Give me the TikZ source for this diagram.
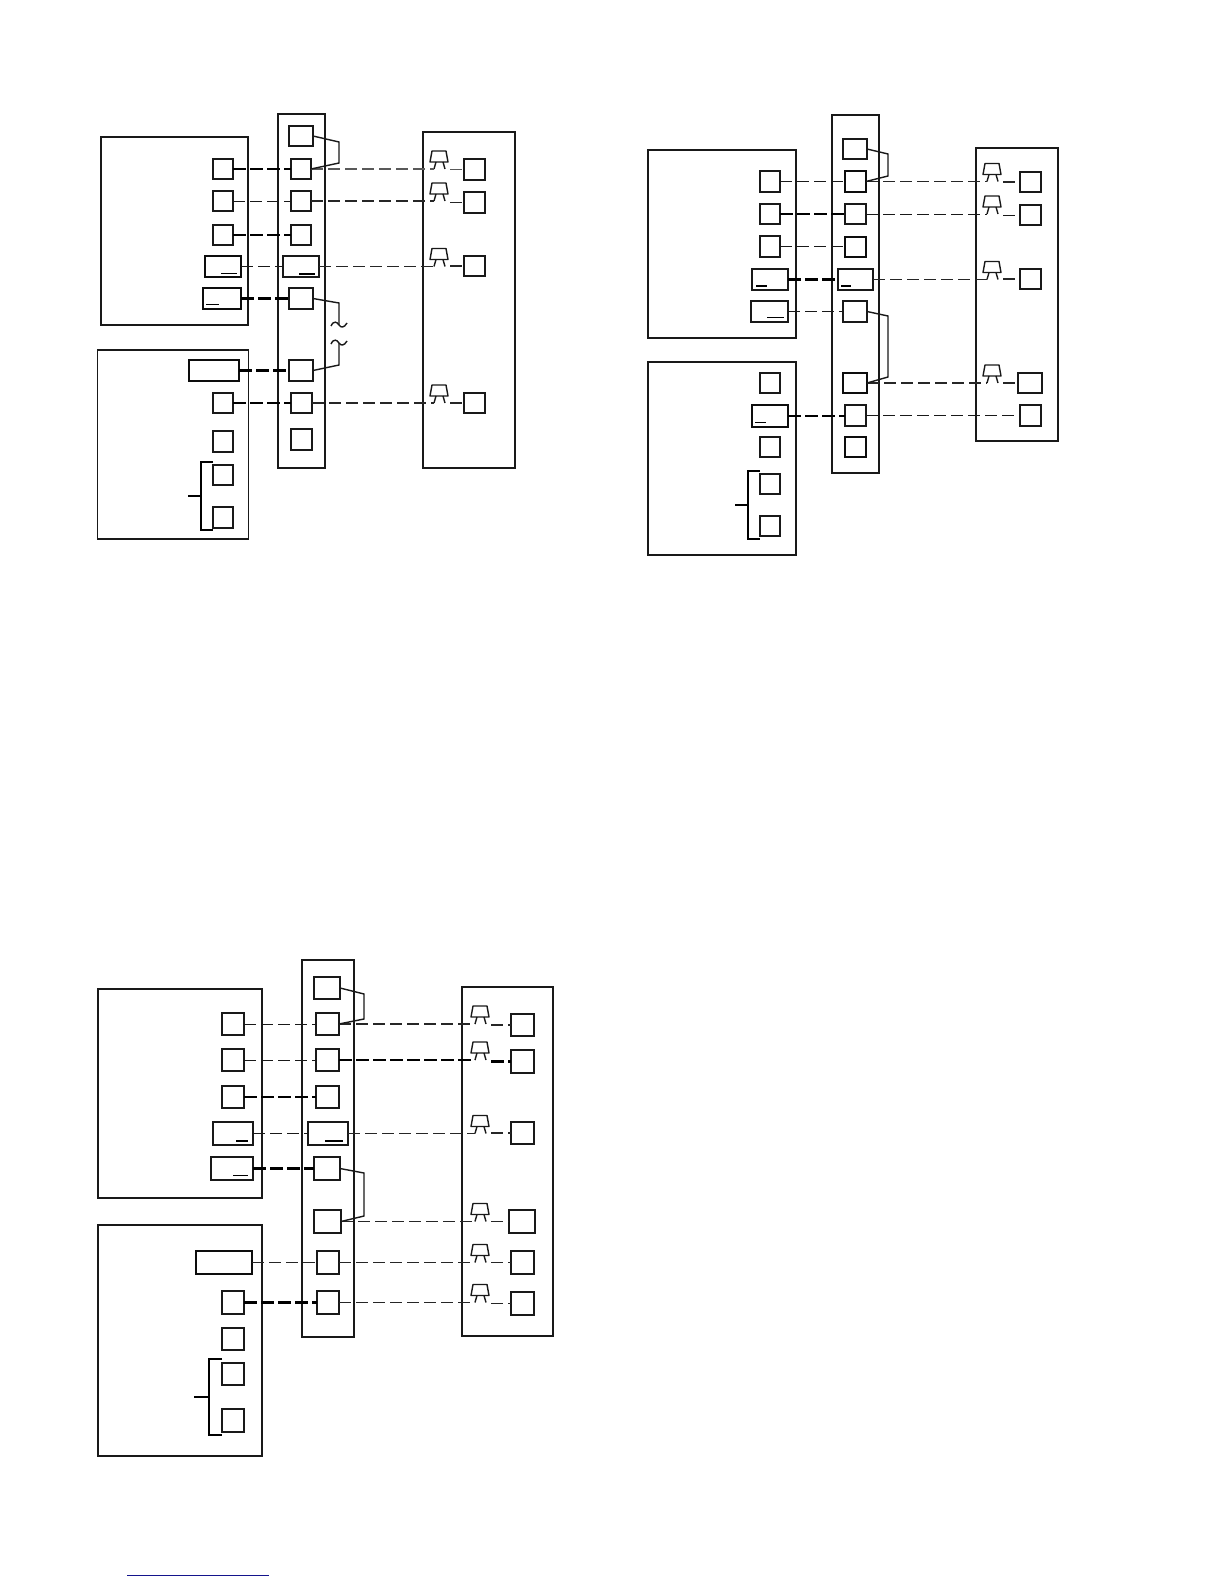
\documentclass[tikz,border=0pt]{standalone}
\definecolor{footerblue}{RGB}{20,20,140}
\tikzset{
  x=1pt,y=-1pt,
  outerbox/.style={draw=black!90,line width=1.3pt},
  framebox/.style={draw=black!90,line width=1.1pt},
  sq/.style={draw=black!90,line width=1.3pt,inner sep=0pt,outer sep=0pt},
  sqb/.style={draw=black!90,line width=1.9pt,inner sep=0pt,outer sep=0pt},
  sqt/.style={draw=black!95,line width=1.05pt,inner sep=0pt,outer sep=0pt},
  wthin/.style={draw=black!90,line width=1pt,dash pattern=on 12pt off 5pt},
  wmed/.style={draw=black!85,line width=1.5pt,dash pattern=on 12pt off 5pt},
  wthick/.style={draw=black,line width=2.1pt,dash pattern=on 13pt off 4pt},
  jumper/.style={draw=black!90,line width=1.4pt},
  lampshape/.style={draw=black!90,line width=1.4pt,line join=round},
  bar/.style={draw=black,line width=1.4pt},
  barthin/.style={draw=black,line width=0.9pt},
  brace/.style={draw=black,line width=1.3pt},
}
\newcommand\bx[6][sq]{\node[#1,minimum width={(#5-#3)*1pt},minimum height={(#6-#4)*1pt}] (#2) at ({(#3+#5)/2},{(#4+#6)/2}) {};}
\newcommand\panelbox[6][outerbox]{\node[#1,inner sep=0pt,outer sep=0pt,minimum width={(#5-#3)*1pt},minimum height={(#6-#4)*1pt}] (#2) at ({(#3+#5)/2},{(#4+#6)/2}) {};}
\newcommand\lamp[3]{%
  \coordinate (#1l) at ({#2-5},#3);
  \coordinate (#1r) at ({#2+11},#3);
  \draw[lampshape] ({#2-7},{#3-18}) -- ({#2+7},{#3-18}) -- ({#2+9},{#3-7}) -- ({#2-9},{#3-7}) -- cycle;
  \draw[lampshape] ({#2-3},{#3-7}) -- ({#2-5},#3);
  \draw[lampshape] ({#2+4},{#3-7}) -- ({#2+6},#3);
}
% straight wire between two nodes, level with the first
\newcommand\wire[3]{\draw[#1] (#2.east) -- (#2.east -| #3.west);}
% wire from a strip terminal through a lamp to a load terminal
\newcommand\lampwire[4]{\draw[#1] (#2.east) -- (#2.east -| #3l);\draw[#1] (#4.west -| #3r) -- (#4.west);}
\begin{document}
\begin{tikzpicture}
\useasboundingbox (0,0) rectangle (1224,1584);
\fill[white] (0,0) rectangle (1224,1584);

% ---------- panel 1 ----------
\panelbox{pa}{101}{137}{248}{325}
\panelbox{pb}{97.5}{350}{248.5}{539}
\panelbox[framebox]{ps}{278}{114}{325}{468}
\panelbox{pr}{423}{132}{515}{468}

\bx[sqb]{pal1}{213}{159}{233}{179}
\bx{pal2}{213}{191}{233}{211}
\bx[sqb]{pal3}{213}{225}{233}{245}
\bx[sqt]{pal4}{205}{256}{241}{277}
\bx[sqt]{pal5}{203}{288}{241}{309}
\bx[sqt]{pbl1}{189}{360}{239}{381}
\bx[sqb]{pbl2}{213}{393}{233}{413}
\bx{pbl3}{213}{431}{233}{452}
\bx[sqb]{pbl4}{213}{465}{233}{485}
\bx[sqb]{pbl5}{213}{507}{233}{528}

\bx{pm0}{289}{126}{313}{146}
\bx[sqb]{pm1}{291}{159}{311}{179}
\bx{pm2}{291}{191}{311}{211}
\bx[sqb]{pm3}{291}{225}{311}{245}
\bx{pm4}{283}{256}{319}{277}
\bx{pm5}{289}{288}{313}{309}
\bx{pm6}{289}{360}{313}{381}
\bx{pm7}{291}{393}{312}{413}
\bx{pm8}{291}{429}{312}{450}

\bx{pr1}{464}{159}{485}{180}
\bx{pr2}{464}{192}{485}{213}
\bx{pr3}{464}{256}{485}{276}
\bx{pr4}{464}{393}{485}{413}

\lamp{pla}{439}{169}
\lamp{plb}{439}{201}
\lamp{plc}{439}{266.5}
\lamp{pld}{439}{403}

\wire{wthick}{pal1}{pm1}
\wire{wthin}{pal2}{pm2}
\wire{wthick}{pal3}{pm3}
\wire{wthin}{pal4}{pm4}
\wire{wthick}{pal5}{pm5}
\wire{wthick}{pbl1}{pm6}
\wire{wthick}{pbl2}{pm7}
\lampwire{wmed,draw=black!65}{pm1}{pla}{pr1}
\lampwire{wmed}{pm2}{plb}{pr2}
\lampwire{wmed}{pm4}{plc}{pr3}
\lampwire{wmed}{pm7}{pld}{pr4}

\draw[jumper] (pm0.east) -- (339,142) -- (339,163) -- (pm1.east);
\draw[jumper] (pm5.east) -- (339,303) -- (339,325);
\draw[jumper] (331,326) .. controls (334,320) and (337,322) .. (339,325) .. controls (341,328) and (344,328) .. (347,323);
\draw[jumper] (331,344) .. controls (334,338) and (337,340) .. (339,343) .. controls (341,346) and (344,346) .. (347,341);
\draw[jumper] (339,343) -- (339,365) -- (pm6.east);

\draw[barthin] (221,273.5) -- (237,273.5);
\draw[bar] (299,274) -- (315,274);
\draw[bar] (206,304.7) -- (219,304.7);
\draw[brace] (213,462) -- (201,462) -- (201,530) -- (213,530);
\draw[brace] (188,496) -- (201,496);

% ---------- panel 2 ----------
\panelbox{qa}{648}{150}{796}{338}
\panelbox{qb}{648}{362}{796}{555}
\panelbox[framebox]{qs}{832}{115}{879}{473}
\panelbox{qr}{976}{148}{1058}{441}

\bx{qal1}{760}{171}{780}{192}
\bx[sqb]{qal2}{760}{204}{780}{224}
\bx{qal3}{760}{236}{780}{257}
\bx{qal4}{752}{269}{788}{290}
\bx[sqb]{qal5}{751}{301}{788}{322}
\bx[sqb]{qbl1}{760}{373}{780}{393}
\bx[sqt]{qbl2}{752}{405}{788}{427}
\bx{qbl3}{760}{437}{780}{457}
\bx{qbl4}{760}{474}{780}{494}
\bx{qbl5}{760}{516}{780}{536}

\bx[sqb]{qm0}{843}{139}{867}{159}
\bx[sqt]{qm1}{845}{171}{866}{192}
\bx[sq]{qm2}{845}{204}{866}{224}
\bx[sqt]{qm3}{845}{237}{866}{257}
\bx[sqb]{qm4}{838}{269}{873}{290}
\bx[sq]{qm5}{843}{301}{867}{322}
\bx[sqt]{qm6}{843}{373}{867}{393}
\bx[sq]{qm7}{845}{405}{866}{426}
\bx[sqt]{qm8}{845}{437}{866}{457}

\bx{qr1}{1020}{172}{1041}{192}
\bx{qr2}{1020}{205}{1041}{225}
\bx{qr3}{1020}{269}{1041}{289}
\bx{qr4}{1018}{373}{1042}{393}
\bx{qr5}{1020}{405}{1041}{426}

\lamp{qla}{992}{181.5}
\lamp{qlb}{992}{214}
\lamp{qlc}{992}{279.5}
\lamp{qld}{992}{383}

\wire{wthin}{qal1}{qm1}
\wire{wthick}{qal2}{qm2}
\wire{wthin}{qal3}{qm3}
\wire{wthick}{qal4}{qm4}
\wire{wthin}{qal5}{qm5}
\wire{wthick}{qbl2}{qm7}
\lampwire{wmed}{qm1}{qla}{qr1}
\lampwire{wthin}{qm2}{qlb}{qr2}
\lampwire{wmed}{qm4}{qlc}{qr3}
\lampwire{wmed}{qm6}{qld}{qr4}
\wire{wthin}{qm7}{qr5}

\draw[jumper] (qm0.east) -- (888,154) -- (888,176) -- (qm1.east);
\draw[jumper] (qm5.east) -- (888,316) -- (888,377) -- (qm6.east);

\draw[bar] (756,286) -- (767,286);
\draw[bar] (841,286) -- (851,286);
\draw[barthin] (767,317) -- (784,317);
\draw[barthin] (755,422) -- (766,422);
\draw[brace] (760,471) -- (748,471) -- (748,539) -- (760,539);
\draw[brace] (735,505) -- (748,505);

% ---------- panel 3 ----------
\panelbox{ra}{98}{989}{262}{1198}
\panelbox{rb}{98}{1225}{262}{1456}
\panelbox[framebox]{rs}{302}{960}{354}{1337}
\panelbox{rr}{462}{987}{553}{1336}

\bx{ral1}{222}{1013}{244}{1035}
\bx{ral2}{222}{1049}{244}{1071}
\bx[sqb]{ral3}{222}{1086}{244}{1108}
\bx{ral4}{213}{1122}{253}{1145}
\bx{ral5}{211}{1157}{253}{1180}
\bx[sqt]{rbl1}{196}{1251}{252}{1274}
\bx{rbl2}{222}{1291}{244}{1314}
\bx{rbl3}{222}{1328}{244}{1350}
\bx{rbl4}{222}{1363}{244}{1385}
\bx{rbl5}{222}{1409}{244}{1432}

\bx{rm0}{314}{977}{340}{999}
\bx{rm1}{316}{1013}{339}{1035}
\bx{rm2}{316}{1049}{339}{1071}
\bx{rm3}{316}{1086}{339}{1108}
\bx{rm4}{308}{1122}{348}{1145}
\bx{rm5}{314}{1157}{340}{1180}
\bx{rm6}{314}{1210}{341}{1233}
\bx{rm7}{317}{1251}{339}{1274}
\bx{rm8}{317}{1291}{339}{1314}

\bx{rr1}{511}{1014}{534}{1036}
\bx{rr2}{511}{1050}{534}{1073}
\bx{rr3}{511}{1122}{534}{1144}
\bx{rr4}{509}{1210}{535}{1233}
\bx{rr5}{511}{1251}{534}{1274}
\bx{rr6}{511}{1292}{534}{1315}

\lamp{rla}{480}{1024}
\lamp{rlb}{480}{1060}
\lamp{rlc}{480}{1133.5}
\lamp{rld}{480}{1221.5}
\lamp{rle}{480}{1262.5}
\lamp{rlf}{480}{1302.5}

\wire{wthin}{ral1}{rm1}
\wire{wthin}{ral2}{rm2}
\wire{wthick}{ral3}{rm3}
\wire{wthin}{ral4}{rm4}
\wire{wthick}{ral5}{rm5}
\wire{wmed}{rbl1}{rm7}
\wire{wthick}{rbl2}{rm8}
\lampwire{wmed}{rm1}{rla}{rr1}
\lampwire{wthick}{rm2}{rlb}{rr2}
\lampwire{wmed}{rm4}{rlc}{rr3}
\lampwire{wmed}{rm6}{rld}{rr4}
\lampwire{wmed}{rm7}{rle}{rr5}
\lampwire{wmed}{rm8}{rlf}{rr6}

\draw[jumper] (rm0.east) -- (364,994) -- (364,1019) -- (rm1.east);
\draw[jumper] (rm5.east) -- (364,1173) -- (364,1216) -- (rm6.east);

\draw[bar] (236,1141) -- (248,1141);
\draw[bar] (325,1141) -- (343,1141);
\draw[barthin] (233,1175) -- (248,1175);
\draw[brace] (222,1359) -- (209,1359) -- (209,1435) -- (222,1435);
\draw[brace] (194,1397) -- (209,1397);

% footer rule
\coordinate (fa) at (127,1575);
\coordinate (fb) at (269,1575);
\draw[draw=footerblue,line width=0.9pt] (fa) -- (fb);
\end{tikzpicture}
\end{document}
